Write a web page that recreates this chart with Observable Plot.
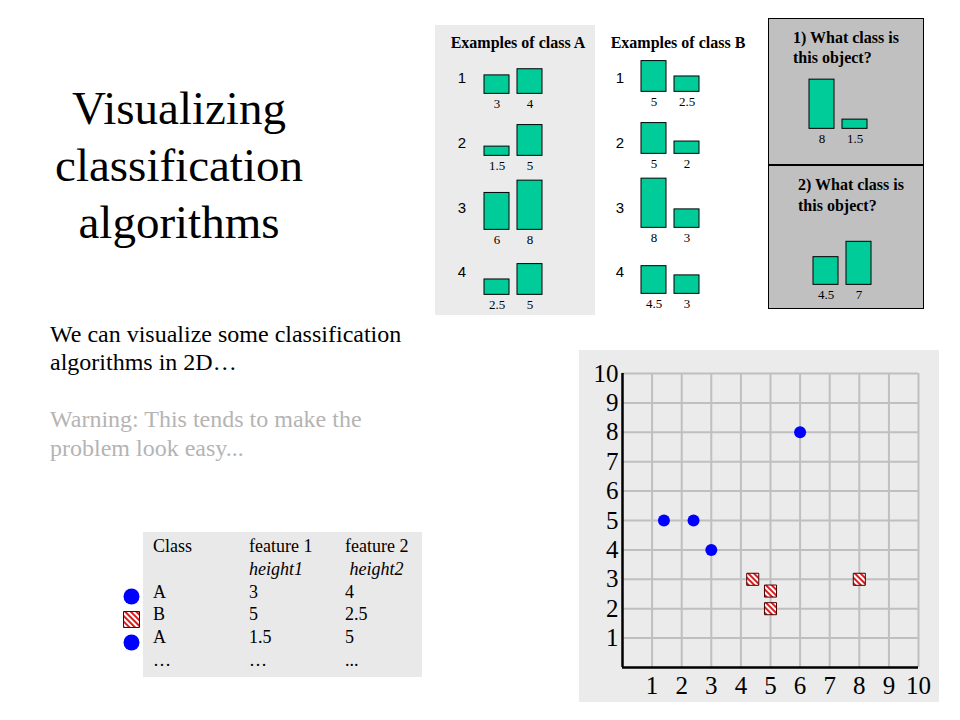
<!DOCTYPE html>
<html>
<head>
<meta charset="utf-8">
<script src="https://cdn.jsdelivr.net/npm/d3@7"></script>
<script src="https://cdn.jsdelivr.net/npm/@observablehq/plot@0.6"></script>
<style>
  html, body { margin: 0; padding: 0; background: #fff; }
  #slide { position: relative; width: 960px; height: 720px; overflow: hidden; background: #fff; }
  .abs { position: absolute; }
  .abs svg { display: block; max-width: none; }
</style>
</head>
<body>
<svg width="0" height="0" style="position:absolute">
  <defs>
    <pattern id="stripes" patternUnits="userSpaceOnUse" width="4" height="4" patternTransform="rotate(-45)">
      <rect width="4" height="4" fill="#ffffff"></rect>
      <rect width="2" height="4" fill="#d61e1e"></rect>
    </pattern>
  </defs>
</svg>
<div id="slide"></div>
<script>
// ---------------- DATA ----------------
const titleLines = ["Visualizing", "classification", "algorithms"];
const introLines = ["We can visualize some classification", "algorithms in 2D…"];
const warningLines = ["Warning: This tends to make the", "problem look easy..."];

const classATitle = "Examples of class A";
const classBTitle = "Examples of class B";
const rowNumbers = ["1", "2", "3", "4"];

// class A examples: feature 1 (height1), feature 2 (height2)
const classAHeight1 = [3, 1.5, 6, 2.5];
const classAHeight2 = [4, 5, 8, 5];
// class B examples
const classBHeight1 = [5, 5, 8, 4.5];
const classBHeight2 = [2.5, 2, 3, 3];
// query objects
const queryTitles = [["1) What class is", "this object?"], ["2) What class is", "this object?"]];
const queryHeight1 = [8, 4.5];
const queryHeight2 = [1.5, 7];

// table
const tableHeader = ["Class", "feature 1", "feature 2"];
const tableSub = ["", "height1", "&nbsp;height2"];
const tableRows = [["A", "3", "4"], ["B", "5", "2.5"], ["A", "1.5", "5"], ["…", "…", "..."]];
const legendClasses = ["A", "B", "A"];

// scatter plot
const scatterAx = [1.4, 2.4, 3, 6];
const scatterAy = [5, 5, 4, 8];
const scatterBx = [4.4, 5, 5, 8];
const scatterBy = [3, 2.6, 2, 3];
const axisTicks = [1, 2, 3, 4, 5, 6, 7, 8, 9, 10];

// ---------------- LAYOUT ----------------
const serif = '"Liberation Serif","Times New Roman",Times,serif';
const sans = '"Liberation Sans",Arial,Helvetica,sans-serif';
const slide = document.getElementById("slide");
const BAR = "#00cc99";
const PX = 6.15; // px per unit for the small bars

function box(left, top, width, height, css) {
  const d = document.createElement("div");
  d.className = "abs";
  d.style.cssText = `left:${left}px;top:${top}px;width:${width}px;height:${height}px;${css || ""}`;
  slide.appendChild(d);
  return d;
}

function addText(lines, o) {
  const fam = o.family || serif;
  const asc = fam === sans ? 0.905 : 0.891, desc = fam === sans ? 0.212 : 0.216;
  const size = o.size, lh = o.lh || size * 1.2;
  const top = o.base - ((lh - (asc + desc) * size) / 2 + asc * size);
  const d = document.createElement("div");
  d.className = "abs";
  const center = o.align === "center";
  d.style.cssText = `left:${center ? o.x - 300 : o.x}px;top:${top}px;${center ? "width:600px;text-align:center;" : ""}` +
    `white-space:nowrap;font-family:${fam};font-size:${size}px;line-height:${lh}px;` +
    `font-weight:${o.weight || "normal"};font-style:${o.italic ? "italic" : "normal"};color:${o.color || "#000"};`;
  d.innerHTML = lines.join("<br>");
  slide.appendChild(d);
}

function place(el, left, top) {
  const d = document.createElement("div");
  d.className = "abs";
  d.style.left = left + "px";
  d.style.top = top + "px";
  d.appendChild(el);
  slide.appendChild(d);
}

// small two-bar chart
function barPair(v1, v2, barLeft, baseline) {
  const data = [{k: 0, v: v1}, {k: 1, v: v2}];
  const mT = 2, mB = 18, mL = 10, mR = 10, span = 9 * PX;
  const chart = Plot.plot({
    width: 58 + mL + mR,
    height: mT + span + mB,
    marginTop: mT, marginBottom: mB, marginLeft: mL, marginRight: mR,
    x: {type: "band", domain: [0, 1], paddingInner: 8 / 33, paddingOuter: 0, axis: null},
    y: {domain: [0, 9], axis: null},
    style: {background: "transparent", fontFamily: serif, fontSize: "13px", color: "#000", overflow: "visible"},
    marks: [
      Plot.barY(data, {x: "k", y: "v", fill: BAR, stroke: "#000", strokeWidth: 1}),
      Plot.text(data, {x: "k", y: () => 0, text: d => String(d.v), dy: 10, lineAnchor: "middle", fill: "#000"})
    ]
  });
  place(chart, barLeft - mL, baseline - mT - span);
}

// ---------------- BACKGROUND PANELS ----------------
box(435, 25, 160, 290, "background:#ebebeb;");
box(768, 18, 156, 291, "background:#c0c0c0;border:1px solid #000;box-sizing:border-box;");
box(768, 164, 156, 1.5, "background:#000;");
box(143, 532, 279, 145, "background:#e9e9e9;");

// ---------------- TEXT ----------------
addText(titleLines, {x: 179, base: 124, size: 47, lh: 57, align: "center"});
addText(introLines, {x: 50, base: 342, size: 24, lh: 28});
addText(warningLines, {x: 50, base: 428, size: 24, lh: 29, color: "#b4b4b4"});

addText([classATitle], {x: 518, base: 48, size: 16, weight: "bold", align: "center"});
addText([classBTitle], {x: 678, base: 48, size: 16, weight: "bold", align: "center"});
addText(queryTitles[0], {x: 793, base: 43, size: 16, lh: 20, weight: "bold"});
addText(queryTitles[1], {x: 798, base: 191, size: 16, lh: 20.5, weight: "bold"});

const rowNumBase = [83, 148, 213, 277];
rowNumbers.forEach((r, i) => {
  addText([r], {x: 462, base: rowNumBase[i], size: 15, family: sans, align: "center"});
  addText([r], {x: 620, base: rowNumBase[i], size: 15, family: sans, align: "center"});
});

// table
const colX = [153, 249, 345];
const rowStep = 22.7, row0 = 553;
tableHeader.forEach((t, j) => addText([t], {x: colX[j], base: row0, size: 18}));
tableSub.forEach((t, j) => { if (t) addText([t], {x: colX[j], base: row0 + rowStep, size: 18, italic: true}); });
tableRows.forEach((r, i) => r.forEach((t, j) => addText([t], {x: colX[j], base: row0 + rowStep * (i + 2), size: 18})));

// ---------------- BAR PANELS ----------------
const rowBaseA = [93, 155, 229, 294];
const rowBaseB = [91, 153, 227, 293];
classAHeight1.forEach((v, i) => barPair(v, classAHeight2[i], 484, rowBaseA[i]));
classBHeight1.forEach((v, i) => barPair(v, classBHeight2[i], 641, rowBaseB[i]));
barPair(queryHeight1[0], queryHeight2[0], 809, 128);
barPair(queryHeight1[1], queryHeight2[1], 813, 284);

// ---------------- LEGEND MARKERS ----------------
const legendData = legendClasses.map((c, i) => ({c, i}));
const legend = Plot.plot({
  width: 30, height: 71,
  marginTop: 12, marginBottom: 12, marginLeft: 0, marginRight: 0,
  y: {type: "point", domain: [0, 1, 2], padding: 0, axis: null},
  style: {background: "transparent", overflow: "visible"},
  marks: [
    Plot.dot(legendData.filter(d => d.c === "A"), {y: "i", r: 8, fill: "#0000ff"}),
    Plot.dot(legendData.filter(d => d.c === "B"), {y: "i", symbol: "square", r: 9, fill: "url(#stripes)", stroke: "#4a0000", strokeWidth: 1})
  ]
});
place(legend, 116, 583);

// ---------------- SCATTER ----------------
const ptsA = scatterAx.map((x, i) => ({x, y: scatterAy[i]}));
const ptsB = scatterBx.map((x, i) => ({x, y: scatterBy[i]}));
const scatter = Plot.plot({
  width: 360, height: 352,
  marginLeft: 43, marginRight: 21, marginTop: 23, marginBottom: 35,
  x: {domain: [0, 10], label: null},
  y: {domain: [0, 10], label: null},
  style: {background: "#ebebeb", fontFamily: serif, fontSize: "25px", color: "#000", overflow: "visible"},
  marks: [
    Plot.ruleX(axisTicks, {stroke: "#bfbfbf", strokeWidth: 2}),
    Plot.ruleY(axisTicks, {stroke: "#bfbfbf", strokeWidth: 2}),
    Plot.ruleX([0], {stroke: "#000", strokeWidth: 2.5}),
    Plot.ruleY([0], {stroke: "#000", strokeWidth: 2.5}),
    Plot.axisX(axisTicks, {tickSize: 0, tickPadding: 9, fontSize: 25, fontFamily: serif, label: null}),
    Plot.axisY(axisTicks, {tickSize: 0, tickPadding: 4, fontSize: 25, fontFamily: serif, label: null}),
    Plot.dot(ptsA, {x: "x", y: "y", r: 6, fill: "#0000ff"}),
    Plot.dot(ptsB, {x: "x", y: "y", symbol: "square", r: 6.8, fill: "url(#stripes)", stroke: "#4a0000", strokeWidth: 1})
  ]
});
place(scatter, 579, 350);
</script>
</body>
</html>
